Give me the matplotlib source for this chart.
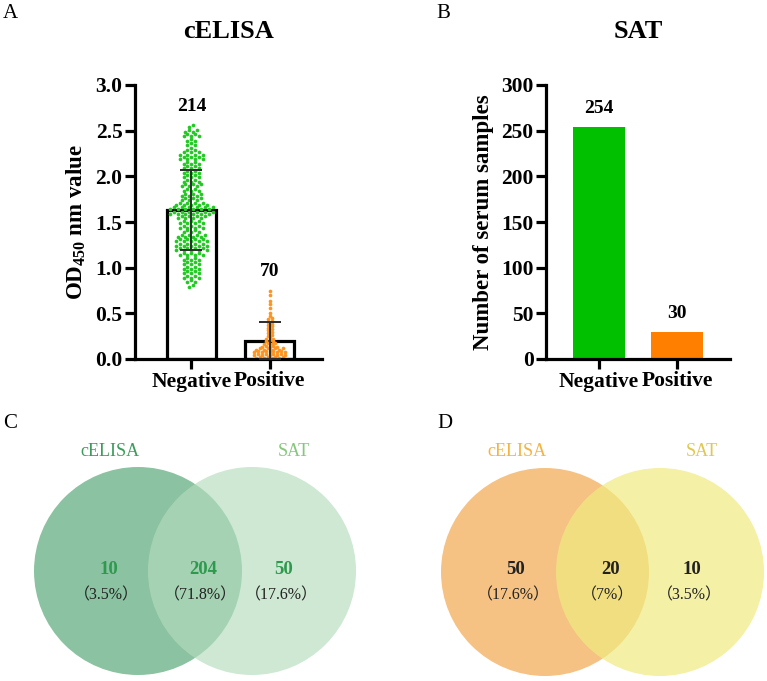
import matplotlib
matplotlib.use("Agg")
import matplotlib.pyplot as plt
import numpy as np
from matplotlib.patches import Circle

plt.rcParams['font.family'] = ['Liberation Serif', 'Noto Sans CJK SC']
plt.rcParams['mathtext.fontset'] = 'custom'
plt.rcParams['mathtext.rm'] = 'Liberation Serif'
plt.rcParams['mathtext.bf'] = 'Liberation Serif:bold'

neg_levels = [0.80, 0.85, 0.90, 0.95, 1.00, 1.05, 1.10, 1.15, 1.20, 1.25, 1.30, 1.35,
              1.40, 1.45, 1.50, 1.55, 1.60, 1.65, 1.70, 1.75, 1.80, 1.85, 1.90, 1.95,
              2.00, 2.05, 2.10, 2.15, 2.20, 2.25, 2.30, 2.35, 2.40, 2.45, 2.50, 2.55]
neg_counts = [2, 3, 5, 5, 5, 5, 5, 7, 9, 9, 9, 8,
              5, 7, 7, 8, 12, 12, 9, 6, 6, 5, 6, 5,
              5, 5, 5, 5, 7, 7, 3, 3, 3, 5, 4, 2]
pos_levels = [0.02, 0.05, 0.08, 0.11, 0.14, 0.17, 0.20, 0.23, 0.26, 0.29, 0.32,
              0.35, 0.38, 0.41, 0.44, 0.47, 0.50, 0.56, 0.60, 0.64, 0.70, 0.74]
pos_counts = [8, 9, 9, 8, 5, 4, 3, 3, 2, 2, 2,
              2, 2, 2, 2, 1, 1, 1, 1, 1, 1, 1]
a_groups = ['Negative', 'Positive']
a_means = [1.63, 0.20]
a_sds = [0.44, 0.20]
a_n = ['214', '70']

# ---- panel B : SAT counts
b_groups = ['Negative', 'Positive']
b_counts = [254, 30]

# ---- panels C, D : venn numbers
c_sets = ['cELISA', 'SAT']
c_nums = ['10', '204', '50']
c_pcts = ['（3.5%）', '（71.8%）', '（17.6%）']
d_sets = ['cELISA', 'SAT']
d_nums = ['50', '20', '10']
d_pcts = ['（17.6%）', '（7%）', '（3.5%）']

W, H = 767, 681
fig = plt.figure(figsize=(W / 100, H / 100), dpi=100)


def style_axes(ax):
    for s in ['top', 'right']:
        ax.spines[s].set_visible(False)
    for s in ['left', 'bottom']:
        ax.spines[s].set_linewidth(2.3)
    ax.tick_params(direction='out', length=7, width=2.3, labelsize=15.5, pad=2)
    for lab in ax.get_xticklabels() + ax.get_yticklabels():
        lab.set_fontweight('bold')


def swarm_x(levels, counts, center, dx, dy):
    # zig-zag rows around each level
    xs, ys = [], []
    for lv, n in zip(levels, counts):
        k = np.arange(n)
        xs.extend(center + (k - (n - 1) / 2.0) * dx)
        ys.extend(lv + ((k % 2) - 0.5) * dy if n > 1 else [lv])
    return np.array(xs), np.array(ys)


# ---------------- A
axA = fig.add_axes([135 / W, 1 - 359 / H, (322 - 135) / W, (359 - 85) / H])
xpos = np.arange(len(a_groups))
axA.bar(xpos, a_means, width=0.63, color='white', edgecolor='black', linewidth=2.3, zorder=1)
nx, ny = swarm_x(neg_levels, neg_counts, 0, 0.05, 0.022)
px, py = swarm_x(pos_levels, pos_counts, 1, 0.05, 0.012)
axA.scatter(nx, ny, s=7, color='#22c922', linewidths=0, zorder=2)
axA.scatter(px, py, s=7, color='#ff9520', linewidths=0, zorder=2)
axA.errorbar(xpos, a_means, yerr=a_sds, fmt='none', ecolor='#2b2b2b', elinewidth=1.4,
             capsize=8, capthick=1.4, zorder=3)
tops = [max(neg_levels), max(pos_levels)]
for i in range(2):
    axA.text(xpos[i], tops[i] + 0.22, a_n[i], ha='center', va='center',
             fontsize=14, fontweight='bold')
axA.set_xlim(-0.72, 1.67)
axA.set_ylim(0, 3.0)
axA.set_yticks(np.arange(0, 3.01, 0.5))
axA.set_yticklabels(['%.1f' % v for v in np.arange(0, 3.01, 0.5)])
axA.set_xticks(xpos)
axA.set_xticklabels(a_groups)
axA.set_ylabel(r'$\mathbf{OD_{450}}$ nm value', fontsize=16.5, fontweight='bold', labelpad=5)
axA.set_title('cELISA', fontsize=19, fontweight='bold', pad=34)
style_axes(axA)

# ---------------- B
axB = fig.add_axes([546 / W, 1 - 359 / H, (730 - 546) / W, (359 - 85) / H])
axB.bar(xpos, b_counts, width=0.66, color=['#00c000', '#ff8000'], zorder=1)
for i in range(2):
    axB.text(xpos[i], b_counts[i] + 20, str(b_counts[i]), ha='center', va='center',
             fontsize=14, fontweight='bold')
axB.set_xlim(-0.68, 1.68)
axB.set_ylim(0, 300)
axB.set_yticks(np.arange(0, 301, 50))
axB.set_xticks(xpos)
axB.set_xticklabels(b_groups)
axB.set_ylabel('Number of serum samples', fontsize=16.5, fontweight='bold', labelpad=5)
axB.set_title('SAT', fontsize=19, fontweight='bold', pad=34)
style_axes(axB)

# ---------------- overlay for letters and venns (pixel coordinates)
ov = fig.add_axes([0, 0, 1, 1], zorder=-1)
ov.set_xlim(0, W)
ov.set_ylim(H, 0)
ov.axis('off')

for lab, (x, y) in zip('ABCD', [(10, 14), (443, 13), (10, 424), (445, 424)]):
    ov.text(x, y, lab, fontsize=15, ha='center', va='center')

r = 104


def venn(cx1, cx2, cy, cols, alphas, names, name_cols, nums, num_col, pcts):
    ov.add_patch(Circle((cx1, cy), r, facecolor=cols[0], alpha=alphas[0], lw=0))
    ov.add_patch(Circle((cx2, cy), r, facecolor=cols[1], alpha=alphas[1], lw=0))
    ov.text(cx1 - 28, 451, names[0], color=name_cols[0], fontsize=13, ha='center', va='center')
    ov.text(cx2 + 42, 451, names[1], color=name_cols[1], fontsize=13, ha='center', va='center')
    xs = [cx1 - 29, (cx1 + cx2) / 2 + 8, cx2 + 32]
    for x, n, p in zip(xs, nums, pcts):
        ov.text(x, 569, n, color=num_col, fontsize=13.5, fontweight='bold', ha='center', va='center')
        ov.text(x - 3, 595, p, color='#222222', fontsize=11.5, ha='center', va='center')


venn(138, 252, 571, ['#5aa979', '#b4dcbc'], [0.7, 0.65], c_sets,
     ['#3c9c5c', '#86c77c'], c_nums, '#2e9a4e', c_pcts)
venn(545, 660, 572, ['#f2a850', '#f0ea80'], [0.7, 0.7], d_sets,
     ['#f5b442', '#e0c850'], d_nums, '#222222', d_pcts)

fig.savefig('out.png', dpi=100)
